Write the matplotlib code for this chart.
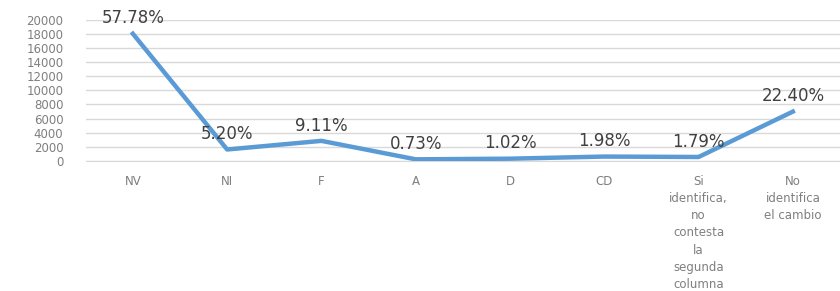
import matplotlib.pyplot as plt
import numpy as np

categories = ["NV", "NI", "F", "A", "D", "CD",
              "Si\nidentifica,\nno\ncontesta\nla\nsegunda\ncolumna",
              "No\nidentifica\nel cambio"]
counts = [18027, 1622, 2842, 228, 318, 618, 558, 6989]
pct_labels = ["57.78%", "5.20%", "9.11%", "0.73%", "1.02%", "1.98%", "1.79%", "22.40%"]
yticks = list(range(0, 20001, 2000))

tick_color = '#7f7f7f'
label_color = '#404040'

fig = plt.figure(figsize=(8.4, 2.91), dpi=100)
ax = fig.add_axes([0.102, 0.447, 0.898, 0.485])

x = np.arange(len(categories))
ax.plot(x, counts, color='#5b9bd5', lw=3.2, solid_joinstyle='round', zorder=3)

for xi, yi, lab in zip(x, counts, pct_labels):
    ax.annotate(lab, (xi, yi), xytext=(0, 11), textcoords='offset points',
                ha='center', va='center', fontsize=12, color=label_color)

ax.set_xlim(-0.5, len(categories) - 0.5)
ax.set_ylim(0, 20000)
ax.set_yticks(yticks)
ax.set_yticklabels([str(v) for v in yticks])
ax.set_xticks(x)
ax.set_xticklabels(categories, linespacing=1.42, va='top')
ax.tick_params(axis='both', length=0, colors=tick_color, labelsize=8.5)
ax.tick_params(axis='y', pad=16)
ax.tick_params(axis='x', pad=10)

ax.grid(axis='y', color='#d9d9d9', lw=1)
ax.set_axisbelow(True)
for s in ['top', 'right', 'left']:
    ax.spines[s].set_visible(False)
ax.spines['bottom'].set_color('#d9d9d9')

fig.savefig('out.png', dpi=100)
